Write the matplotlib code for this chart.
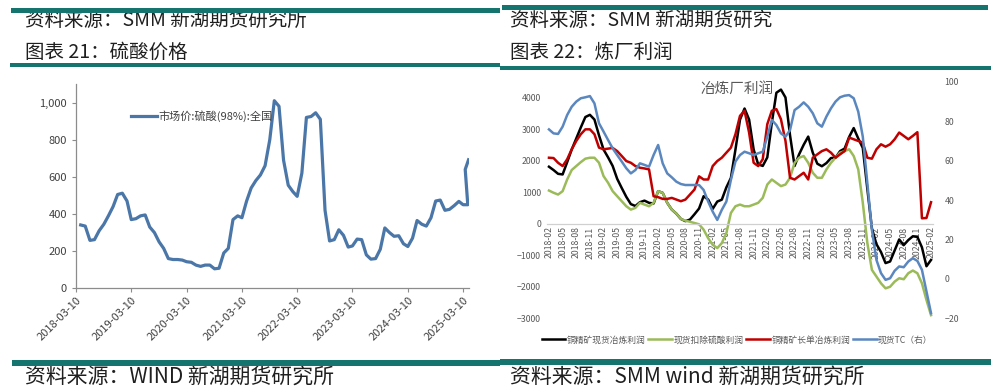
import matplotlib
matplotlib.use('Agg')
import matplotlib.pyplot as plt
from matplotlib.patches import Rectangle
from matplotlib.ticker import FuncFormatter
import pandas as pd
import numpy as np

plt.rcParams['font.family'] = ['Noto Sans CJK SC', 'DejaVu Sans']

# ---------------- data: left chart (sulfuric acid price) ----------------
sa_dates = list(pd.date_range('2018-03-10', periods=85, freq='MS') + pd.Timedelta(days=9)) + \
    [pd.Timestamp('2025-03-24'), pd.Timestamp('2025-04-15')]
sa_values = [341, 335, 258, 262, 310, 345, 390, 440, 505, 512,
             470, 370, 375, 390, 395, 330, 300, 250, 215, 160,
             155, 155, 152, 143, 140, 125, 118, 125, 125, 105,
             108, 190, 215, 370, 390, 380, 470, 540, 580, 610,
             660, 800, 1010, 980, 690, 555, 520, 495, 620, 920,
             925, 945, 910, 420, 255, 262, 315, 285, 222, 228,
             265, 262, 180, 157, 160, 210, 325, 300, 280, 283,
             240, 225, 270, 365, 345, 335, 380, 470, 475, 420,
             425, 445, 468, 450, 450, 640, 692]
sa_label = '市场价:硫酸(98%):全国'
sa_ticks = ['2018-03-10', '2019-03-10', '2020-03-10', '2021-03-10',
            '2022-03-10', '2023-03-10', '2024-03-10', '2025-03-10']

# ---------------- data: right chart (smelter profit) ----------------
months = [p.strftime('%Y-%m') for p in pd.period_range('2018-02', periods=85, freq='M')]
black = [1805, 1700, 1580, 1560, 1950, 2350, 2700, 3050, 3380, 3450,
         3300, 2800, 2350, 2100, 1830, 1420, 1130, 850, 620, 560,
         680, 730, 660, 640, 1030, 977, 660, 446, 318, 150,
         80, 130, 300, 480, 870, 764, 470, 700, 760, 1150,
         1450, 2350, 3300, 3650, 3300, 2350, 1880, 1830, 2100, 3200,
         4150, 4250, 4000, 2800, 1830, 2200, 2500, 2760, 2250, 1900,
         1820, 1920, 2080, 2090, 2300, 2380, 2750, 3030, 2700, 2400,
         1100, -150, -650, -900, -1250, -1200, -850, -500, -680, -520,
         -400, -420, -750, -1350, -1150]
green = [1050, 980, 923, 1030, 1400, 1700, 1826, 1950, 2060, 2090,
         2090, 1930, 1507, 1295, 1030, 870, 711, 552, 446, 500,
         660, 605, 552, 660, 1030, 977, 660, 446, 318, 150,
         95, 60, 20, -20, -190, -460, -670, -775, -616, -297,
         340, 552, 605, 552, 552, 605, 660, 817, 1240, 1400,
         1295, 1190, 1240, 1454, 1930, 2090, 2144, 1930, 1614, 1454,
         1454, 1720, 1930, 2090, 2250, 2300, 2357, 2144, 1720, 660,
         -616, -1465, -1677, -1890, -2050, -2000, -1837, -1730, -1762, -1571,
         -1486, -1571, -1890, -2420, -2900]
red = [2090, 2080, 1930, 1826, 2040, 2357, 2620, 2835, 2990, 2990,
       2835, 2410, 2357, 2378, 2400, 2300, 2144, 1985, 1930, 1826,
       1773, 1750, 1720, 870, 840, 785, 785, 817, 764, 711,
       764, 923, 1083, 1500, 1400, 1400, 1826, 1985, 2090, 2250,
       2410, 2835, 3418, 3578, 2888, 1930, 1826, 2040, 3153, 3578,
       3631, 3312, 2622, 1454, 1400, 1507, 1614, 1400, 2090, 2197,
       2300, 2357, 2250, 2090, 2197, 2300, 2728, 2675, 2622, 2570,
       2090, 2060, 2357, 2516, 2440, 2516, 2675, 2888, 2782, 2675,
       2782, 2900, 170, 180, 680]
blue_tc = [75.8, 73.8, 73.5, 77.2, 83.1, 87.3, 89.9, 91.6, 92.1, 92.7,
           89, 78.9, 74.7, 70.4, 66.2, 62.8, 59.5, 56.1, 53.5, 55.2,
           58.6, 57.8, 56.9, 62.8, 67.9, 58.6, 53.5, 51.5, 49.3, 48.1,
           47.6, 47.6, 47.6, 47.6, 45.1, 39.2, 34.1, 29.9, 35, 39.2,
           50.2, 59.5, 62.8, 64.5, 63.7, 62.8, 63.7, 64.5, 72.1, 80.6,
           78, 73.8, 72.1, 75.5, 85.6, 87.3, 89.5, 87.3, 84, 78.9,
           77.2, 82.3, 86.5, 89.9, 92.1, 92.9, 93.2, 91.6, 84.8, 72.1,
           48.5, 24.8, 9.6, 2.9, -0.5, 0.3, 4.1, 6.3, 5.9, 8.8,
           10.5, 9.1, 4.6, -6.4, -17.4]
series_names = ['铜精矿现货冶炼利润', '现货扣除硫酸利润', '铜精矿长单冶炼利润', '现货TC（右）']
profit_title = '冶炼厂利润'

# ---------------- layout ----------------
W, H = 991, 391
fig = plt.figure(figsize=(W / 100, H / 100), dpi=100)


def fx(x):
    return x / W


def fy(y):
    return 1 - y / H


TEAL = '#16746E'


def bar(x0, x1, y0, y1, color=TEAL):
    fig.add_artist(Rectangle((fx(x0), fy(y1)), fx(x1) - fx(x0), fy(y0) - fy(y1),
                             transform=fig.transFigure, facecolor=color,
                             edgecolor='none', zorder=10))


TXT = '#1f1f1f'
# header texts
fig.text(fx(25), fy(20), '资料来源：SMM 新湖期货研究所', fontsize=14, color=TXT, va='center', ha='left')
fig.text(fx(510), fy(20), '资料来源：SMM 新湖期货研究', fontsize=14, color=TXT, va='center', ha='left')
fig.text(fx(25), fy(52), '图表 21：硫酸价格', fontsize=14, color=TXT, va='center', ha='left')
fig.text(fx(510), fy(52), '图表 22：炼厂利润', fontsize=14, color=TXT, va='center', ha='left')
fig.text(fx(25), fy(377), '资料来源：WIND 新湖期货研究所', fontsize=15, color=TXT, va='center', ha='left')
fig.text(fx(510), fy(377), '资料来源：SMM wind 新湖期货研究所', fontsize=15, color=TXT, va='center', ha='left')

# teal bars
bar(11, 500, 8, 13)
bar(502, 988, 5, 9.5)
bar(10, 500, 62.5, 67)
bar(500, 991, 65.5, 70)
bar(12, 500, 360, 366)
bar(500, 991, 359, 365)

# ---------------- left chart ----------------
ax1 = fig.add_axes([fx(76), fy(288.3), fx(469.3) - fx(76), fy(84) - fy(288.3)])
ax1.plot(sa_dates, sa_values, color='#4A76A8', lw=2.3, label=sa_label, solid_joinstyle='round')
ax1.set_xlim(pd.Timestamp('2018-03-10'), pd.Timestamp('2025-04-20'))
ax1.set_ylim(0, 1100)
ax1.set_yticks([0, 200, 400, 600, 800, 1000])
ax1.yaxis.set_major_formatter(FuncFormatter(lambda v, p: f'{v:,.0f}'))
tick_dates = [pd.Timestamp(t) for t in sa_ticks]
ax1.set_xticks(tick_dates)
ax1.set_xticklabels(sa_ticks, rotation=45, ha='right', va='top', rotation_mode='anchor')
for s in ['top', 'right']:
    ax1.spines[s].set_visible(False)
for s in ['left', 'bottom']:
    ax1.spines[s].set_color('#8c8c8c')
    ax1.spines[s].set_linewidth(0.9)
ax1.tick_params(axis='both', direction='out', length=3, width=0.8, color='#8c8c8c',
                labelcolor='#404040', labelsize=8)
ax1.tick_params(axis='x', pad=2)
ax1.legend(loc='center left', bbox_to_anchor=(fx(131), fy(116)), bbox_transform=fig.transFigure,
           frameon=False, fontsize=8, handlelength=2.3, handletextpad=0.15, borderpad=0,
           borderaxespad=0, labelcolor='#404040')

# ---------------- right chart ----------------
ax2 = fig.add_axes([fx(546.7), fy(318.3), fx(933.3) - fx(546.7), fy(81.7) - fy(318.3)])
for s in ['top', 'right', 'left']:
    ax2.spines[s].set_visible(False)
ax2.spines['bottom'].set_position(('data', 0))
ax2.spines['bottom'].set_color('#d0d0d0')
ax2.spines['bottom'].set_linewidth(0.9)

x = np.arange(len(months))
l1, = ax2.plot(x, black, color='#000000', lw=1.8, label=series_names[0])
l2, = ax2.plot(x, green, color='#9BBB59', lw=1.8, label=series_names[1])
l3, = ax2.plot(x, red, color='#C00000', lw=1.8, label=series_names[2])
ax2.set_xlim(-0.5, len(months) - 0.5)
ax2.set_ylim(-3000, 4500)
ax2.set_yticks(range(-3000, 4001, 1000))
ax2.set_xticks(x[::3])
ax2.set_xticklabels(months[::3])
ax2.tick_params(axis='both', length=0, labelcolor='#595959', labelsize=6.3)
ax2.tick_params(axis='x', pad=2, labelrotation=90)
ax2.tick_params(axis='y', pad=4)
for lab in ax2.get_xticklabels():
    lab.set_va('top')
    lab.set_ha('center')

ax3 = ax2.twinx()
l4, = ax3.plot(x, blue_tc, color='#5B87BF', lw=1.8, label=series_names[3])
ax3.set_ylim(-20, 100)
ax3.set_yticks(range(-20, 101, 20))
for s in ax3.spines.values():
    s.set_visible(False)
ax3.tick_params(axis='y', length=0, labelcolor='#595959', labelsize=6.3, pad=8)

fig.text(fx(737), fy(89), profit_title, fontsize=10.5, color='#595959', ha='center', va='center')
fig.legend(handles=[l1, l2, l3, l4], loc='center', bbox_to_anchor=(fx(737), fy(340)),
           ncol=4, frameon=False, fontsize=6.3, handlelength=2.7, handletextpad=0.15,
           columnspacing=0.35, labelcolor='#595959', borderpad=0)

fig.savefig('out.png', dpi=100)
